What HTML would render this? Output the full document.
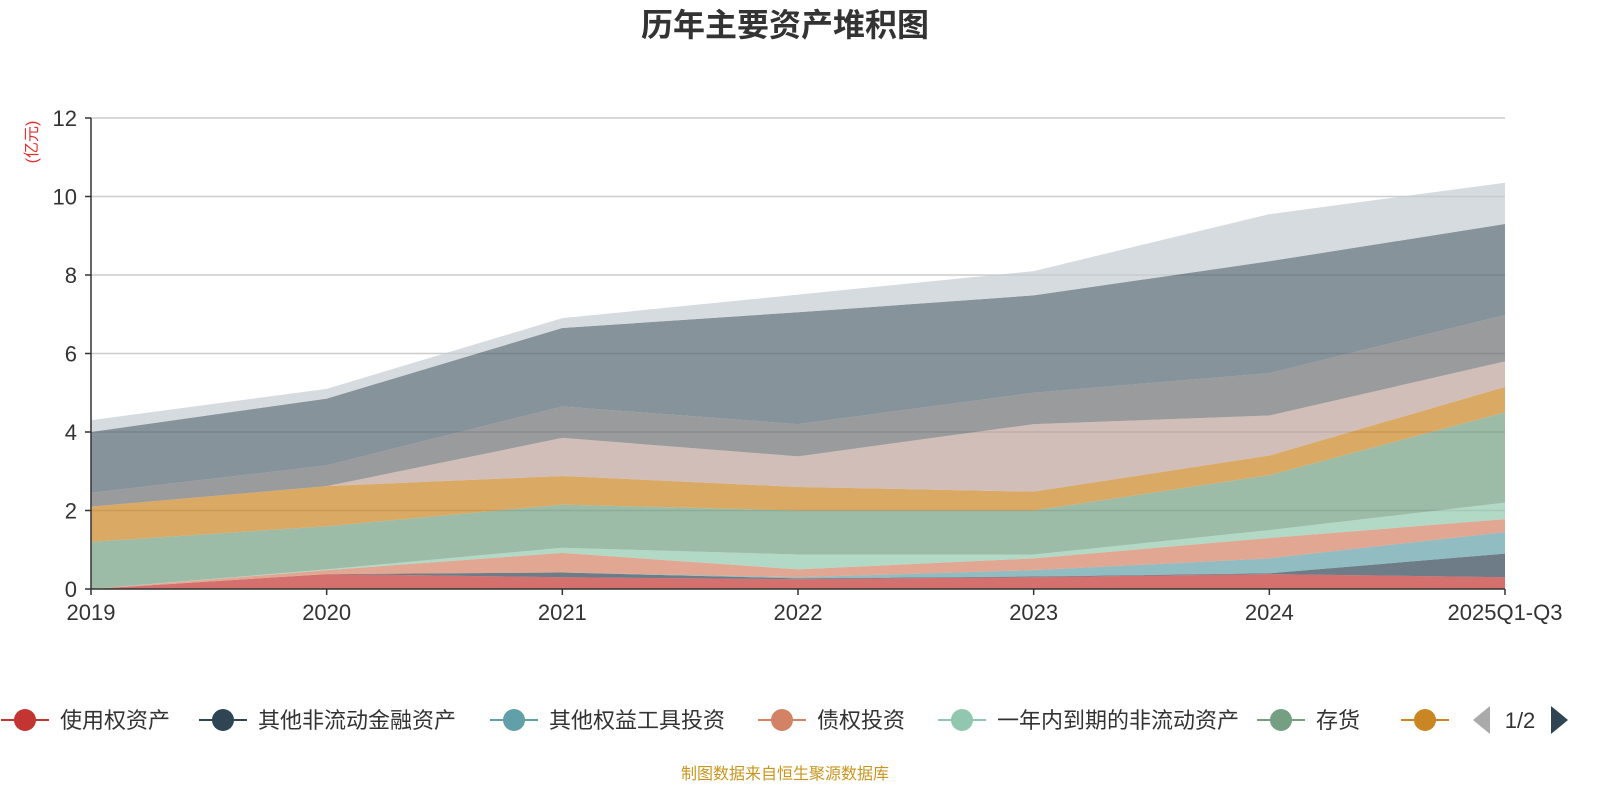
<!DOCTYPE html>
<html><head><meta charset="utf-8">
<style>
body{margin:0;background:#fff;width:1600px;height:800px;overflow:hidden;font-family:"Liberation Sans","Noto Sans CJK SC",sans-serif;}
svg text{font-family:"Liberation Sans","Noto Sans CJK SC",sans-serif;}
</style></head>
<body>
<svg id="chart" width="1600" height="800">
<text x="785" y="36" text-anchor="middle" font-size="32" font-weight="bold" fill="#333">历年主要资产堆积图</text>
<text transform="translate(37,142) rotate(-90)" text-anchor="middle" font-size="16" fill="#e03030">(亿元)</text>
<g id="grid"></g><g id="areas"></g><g id="axes"></g><g id="legend"></g>
<text x="785" y="779" text-anchor="middle" font-size="16" fill="#c8961e">制图数据来自恒生聚源数据库</text>
</svg>
<script>
const categories=["2019","2020","2021","2022","2023","2024","2025Q1-Q3"];
const yTicks=[0,2,4,6,8,10,12];
const seriesNames=["使用权资产","其他非流动金融资产","其他权益工具投资","债权投资","一年内到期的非流动资产","存货","应收账款","交易性金融资产","固定资产","货币资金","其他资产"];
const seriesColors=["#c23531","#2f4554","#61a0a8","#d48265","#91c7ae","#749f83","#ca8622","#bda29a","#6e7074","#546570","#c4ccd3"];
const s0=[0,0.38,0.3,0.25,0.3,0.38,0.3];
const s1=[0,0,0.12,0.02,0.02,0.02,0.6];
const s2=[0,0,0,0.03,0.16,0.38,0.55];
const s3=[0,0.1,0.5,0.2,0.3,0.52,0.33];
const s4=[0,0.02,0.13,0.38,0.1,0.2,0.42];
const s5=[1.2,1.1,1.1,1.12,1.12,1.4,2.3];
const s6=[0.9,1.02,0.73,0.6,0.48,0.5,0.65];
const s7=[0,0,0.97,0.78,1.72,1.02,0.65];
const s8=[0.35,0.53,0.8,0.82,0.8,1.08,1.18];
const s9=[1.55,1.7,2.0,2.85,2.48,2.85,2.32];
const s10=[0.3,0.25,0.25,0.45,0.62,1.2,1.05];
const series=[s0,s1,s2,s3,s4,s5,s6,s7,s8,s9,s10];
const NS="http://www.w3.org/2000/svg";
const X0=91,X1=1505,Y0=589,Y1=118,YMAX=12;
const xs=i=>X0+(X1-X0)*i/(categories.length-1);
const ys=v=>Y0-(Y0-Y1)*v/YMAX;
function mk(t,a,p){const e=document.createElementNS(NS,t);for(const k in a)e.setAttribute(k,a[k]);p.appendChild(e);return e;}
const grid=document.getElementById('grid'),axes=document.getElementById('axes'),areas=document.getElementById('areas'),legend=document.getElementById('legend');
yTicks.forEach(v=>{
 if(v>0){const l=mk('line',{x1:X0,x2:X1,y1:ys(v),y2:ys(v),stroke:'#ccc','stroke-width':1.5},grid);
 
 }
 const t=mk('text',{x:X0-14,y:ys(v)+8,'text-anchor':'end','font-size':22,fill:'#333'},axes);t.textContent=v;
 
 
 mk('line',{x1:X0-6,x2:X0,y1:ys(v),y2:ys(v),stroke:'#333','stroke-width':1.5},axes);
});
let cum=categories.map(()=>0);
series.forEach((s,k)=>{
 const lo=cum.slice();const hi=cum.map((c,i)=>c+s[i]);cum=hi;
 let d='';hi.forEach((v,i)=>d+=(i?'L':'M')+xs(i)+','+ys(v));
 for(let i=lo.length-1;i>=0;i--)d+='L'+xs(i)+','+ys(lo[i]);
 const p=mk('path',{d:d+'Z',fill:seriesColors[k],'fill-opacity':0.7},areas);
 
 
});
mk('line',{x1:X0,x2:X0,y1:Y1,y2:Y0,stroke:'#333','stroke-width':1.5},axes);
mk('line',{x1:X0,x2:X1,y1:Y0,y2:Y0,stroke:'#333','stroke-width':1.5},axes);
categories.forEach((c,i)=>{
 mk('line',{x1:xs(i),x2:xs(i),y1:Y0,y2:Y0+6,stroke:'#333','stroke-width':1.5},axes);
 const t=mk('text',{x:xs(i),y:Y0+31,'text-anchor':'middle','font-size':22,fill:'#333'},axes);t.textContent=c;
 
 
});
const legX=[25,223,514,782,962,1281,1425];
for(let k=0;k<7;k++){
 const g=mk('g',{},legend);
 
 
 const x=legX[k];
 mk('line',{x1:x-24,x2:x+24,y1:720,y2:720,stroke:seriesColors[k],'stroke-width':2},g);
 mk('circle',{cx:x,cy:720,r:11,fill:seriesColors[k]},g);
 if(k<6){const t=mk('text',{x:x+35,y:728,'font-size':22,fill:'#333'},g);t.textContent=seriesNames[k];}
}
const pg=mk('g',{},legend);


mk('path',{d:'M1490,706 L1473,720 L1490,734 Z',fill:'#aaa'},pg);
const pt=mk('text',{x:1520,y:728,'text-anchor':'middle','font-size':22,fill:'#333'},pg);pt.textContent='1/2';
mk('path',{d:'M1551,706 L1568,720 L1551,734 Z',fill:'#2f4554'},pg);
</script>
</body></html>
